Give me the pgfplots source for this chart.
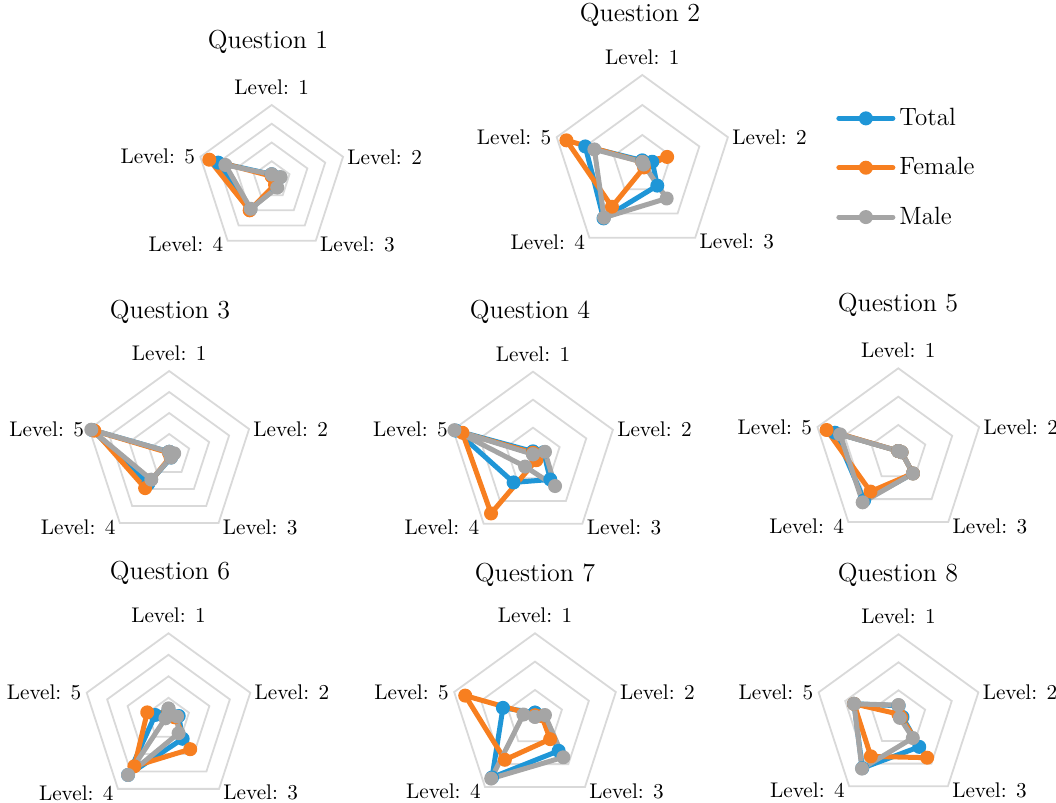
\documentclass[border=0pt]{standalone}
\usepackage{pgfplots}
\pgfplotsset{compat=1.18}
\definecolor{cblue}{RGB}{31,150,215}
\definecolor{corange}{RGB}{247,127,32}
\definecolor{cgray}{RGB}{165,165,165}
\definecolor{cgrid}{RGB}{217,217,217}
\pgfplotsset{
 radar/.style={scale only axis, hide axis, clip=false, anchor=center,
   xmin=-#1,xmax=#1,ymin=-#1,ymax=#1},
 ring/.style={data cs=polar, draw=cgrid, line width=0.9pt, no markers, forget plot},
 ser/.style={data cs=polar, line width=2.5pt, mark=*, mark size=3.1pt, mark options={line width=0.8pt}, line join=round, line cap=round},
 tot/.style={ser, color=cblue},
 fem/.style={ser, color=corange},
 mal/.style={ser, color=cgray},
}
\tikzset{lab/.style={font=\fontsize{10.6}{13}\selectfont, inner sep=0.5pt},
 ttl/.style={font=\fontsize{13}{15}\selectfont, inner sep=0pt}}
\newcommand\ring[1]{\addplot[ring] coordinates {(90,#1)(18,#1)(-54,#1)(-126,#1)(162,#1)(90,#1)(18,#1)};}
\newcommand\ser[6]{\addplot[#1] coordinates {(90,#2)(18,#3)(-54,#4)(-126,#5)(162,#6)(90,#2)};}
\newcommand\levels{%
 \node[lab, anchor=south, yshift=4.5pt] at (rel axis cs:0.5,1) {Level: 1};
 \node[lab, anchor=west, xshift=1.5pt] at (rel axis cs:0.9755,0.6545) {Level: 2};
 \node[lab, anchor=west, xshift=1.5pt, yshift=-2pt] at (rel axis cs:0.794,0.0955) {Level: 3};
 \node[lab, anchor=east, xshift=-1.5pt, yshift=-2pt] at (rel axis cs:0.206,0.0955) {Level: 4};
 \node[lab, anchor=east, xshift=-2pt] at (rel axis cs:0.0245,0.6545) {Level: 5};
}
\begin{document}
\begin{tikzpicture}
\path[use as bounding box] (0,0) rectangle (528pt,401.5pt);
% Question 1
\begin{axis}[radar=4, at={(135.85pt,311.5pt)}, width=75pt, height=75pt]
\ring{1}\ring{2}\ring{3}\ring{4}
\ser{tot}{0.3}{0.45}{0.4}{1.95}{3.0}
\ser{fem}{0.2}{0.35}{0.3}{2.0}{3.5}
\ser{mal}{0.3}{0.5}{0.5}{1.9}{2.6}
\levels
\end{axis}
% Question 2
\begin{axis}[radar=3, at={(321.15pt,319pt)}, width=90pt, height=90pt,
 legend style={at={(1.576,0.84)}, anchor=north west, draw=none, fill=none,
   font=\fontsize{12.5}{14}\selectfont, row sep=10.5pt, inner sep=0pt, cells={anchor=west}},
 legend image code/.code={\draw[mark repeat=2,mark phase=2] plot coordinates {(0pt,0pt)(13.5pt,0pt)(27pt,0pt)};}]
\ring{1}\ring{2}\ring{3}
\ser{tot}{0.15}{0.35}{0.85}{2.2}{2.0}
\ser{fem}{0.1}{0.87}{0.1}{1.72}{2.66}
\ser{mal}{0.1}{0.05}{1.38}{2.17}{1.68}
\legend{Total,Female,Male}
\levels
\end{axis}
% Question 3
\begin{axis}[radar=4, at={(84.6pt,174pt)}, width=84pt, height=84pt]
\ring{1}\ring{2}\ring{3}\ring{4}
\ser{tot}{0.15}{0.2}{0.15}{1.7}{3.85}
\ser{fem}{0.1}{0.15}{0.1}{1.95}{3.75}
\ser{mal}{0.15}{0.25}{0.15}{1.45}{3.9}
\levels
\end{axis}
% Question 4
\begin{axis}[radar=3, at={(266.5pt,173.65pt)}, width=84pt, height=84pt]
\ring{1}\ring{2}\ring{3}
\ser{tot}{0.15}{0.4}{1.05}{1.18}{2.9}
\ser{fem}{0.1}{0.1}{0.2}{2.55}{2.65}
\ser{mal}{0.05}{0.45}{1.34}{0.48}{2.95}
\levels
\end{axis}
% Question 5
\begin{axis}[radar=3, at={(449.15pt,174.85pt)}, width=85pt, height=85pt]
\ring{1}\ring{2}\ring{3}
\ser{tot}{0.08}{0.12}{0.88}{2.05}{2.35}
\ser{fem}{0.08}{0.12}{0.88}{1.67}{2.66}
\ser{mal}{0.08}{0.12}{0.88}{2.14}{2.16}
\levels
\end{axis}
% Question 6
\begin{axis}[radar=4, at={(84.25pt,41.85pt)}, width=86pt, height=86pt]
\ring{1}\ring{2}\ring{3}\ring{4}
\ser{tot}{0.4}{0.5}{1.12}{3.2}{0.65}
\ser{fem}{0.3}{0.3}{1.72}{2.7}{1.04}
\ser{mal}{0.5}{0.42}{0.8}{3.2}{0.15}
\levels
\end{axis}
% Question 7
\begin{axis}[radar=3, at={(267.5pt,42.35pt)}, width=85pt, height=85pt]
\ring{1}\ring{2}\ring{3}
\ser{tot}{0.2}{0.3}{1.42}{2.58}{1.19}
\ser{fem}{0.1}{0.25}{0.91}{1.81}{2.59}
\ser{mal}{0.05}{0.37}{1.7}{2.63}{0.43}
\levels
\end{axis}
% Question 8
\begin{axis}[radar=3, at={(449.25pt,42.35pt)}, width=84pt, height=84pt]
\ring{1}\ring{2}\ring{3}
\ser{tot}{0.45}{0.15}{1.26}{2.2}{1.67}
\ser{fem}{0.15}{0.1}{1.74}{1.68}{1.67}
\ser{mal}{0.47}{0.05}{0.87}{2.22}{1.67}
\levels
\end{axis}
\node[ttl] at (134pt,380.5pt) {Question 1};
\node[ttl] at (320pt,394pt) {Question 2};
\node[ttl] at (85pt,245.5pt) {Question 3};
\node[ttl] at (265pt,245.5pt) {Question 4};
\node[ttl] at (449pt,249pt) {Question 5};
\node[ttl] at (85pt,115pt) {Question 6};
\node[ttl] at (267.5pt,114pt) {Question 7};
\node[ttl] at (449pt,114pt) {Question 8};
\end{tikzpicture}
\end{document}
